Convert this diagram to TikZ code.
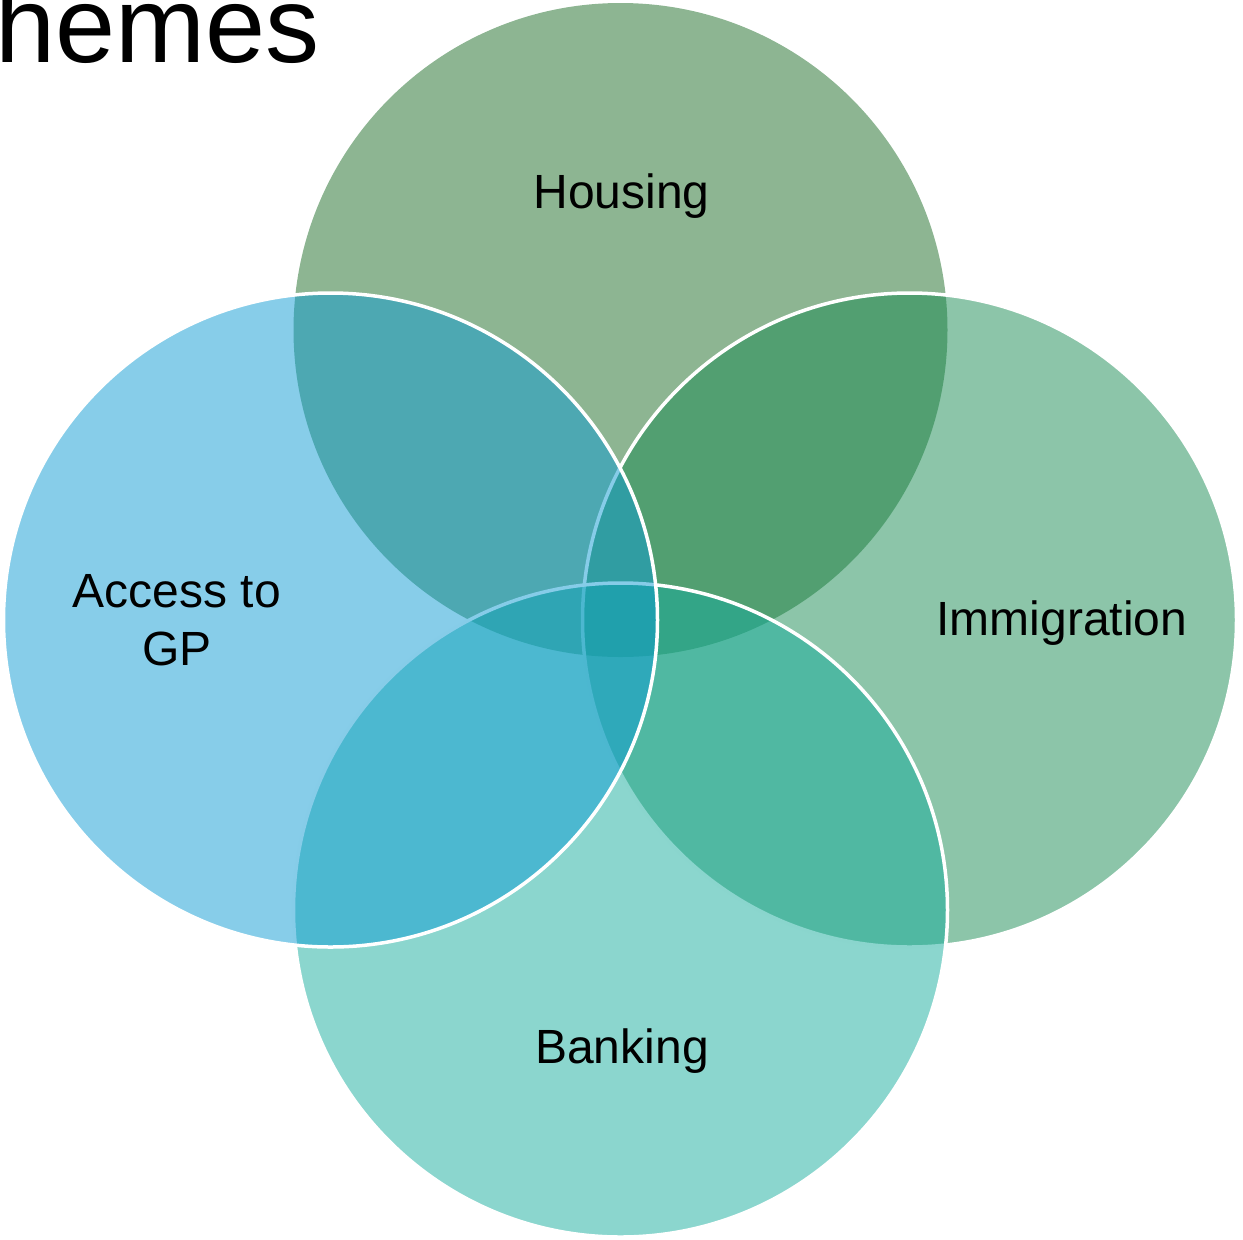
\documentclass[tikz,border=0pt]{standalone}
\usepackage{fontspec}
\setmainfont{Liberation Sans}
\usetikzlibrary{positioning}

\begin{document}
\begin{tikzpicture}[x=0.5pt,y=0.5pt,yscale=-1,xscale=1,
	themecircle/.style={fill opacity=0.5,line width=1.75pt},
	themelabel/.style={text=black,inner sep=0pt,anchor=base,font=\fontsize{24}{29}\selectfont,align=center}]
			\useasboundingbox (0,0) rectangle (1243,1239);

			%Shape: Circle [id:housing]
			\fill [themecircle, fill={rgb, 255:red, 27; green, 107; blue, 37 }] (620.5,330) circle (163.5pt) ;
			%Shape: Circle [id:immigration]
			\filldraw [themecircle, draw=white, fill={rgb, 255:red, 25; green, 139; blue, 83 }] (909.5,620) circle (163.5pt) ;
			%Shape: Circle [id:banking]
			\filldraw [themecircle, draw=white, fill={rgb, 255:red, 23; green, 173; blue, 157 }] (620.5,910) circle (163.5pt) ;
			%Shape: Circle [id:access]
			\filldraw [themecircle, draw=white, fill={rgb, 255:red, 15; green, 155; blue, 211 }] (330.5,620) circle (163.5pt) ;

			% Text Node
			\node (title) [anchor=base west,inner sep=0pt,font=\fontsize{54}{60}\selectfont] at (-5,62) {hemes};
			% Text Node
			\node (housing) [themelabel] at (621.5,208) {Housing};
			% Text Node
			\node (access) [themelabel] at (177,665) {Access to\\GP};
			% Text Node
			\node (immigration) [themelabel] at (1062,635) {Immigration};
			% Text Node
			\node (banking) [themelabel] at (622,1063) {Banking};

		\end{tikzpicture}
\end{document}
